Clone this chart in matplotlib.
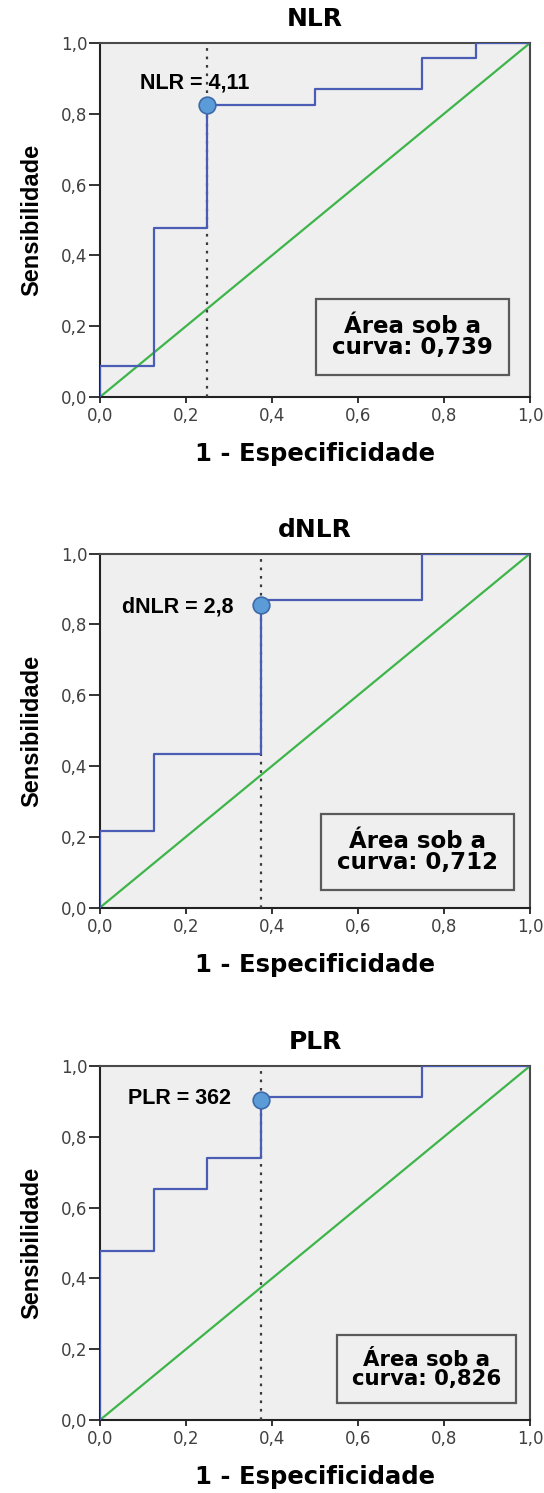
import matplotlib as mpl
import matplotlib.pyplot as plt
from matplotlib.ticker import FuncFormatter

mpl.use('Agg')
plt.rcParams['font.family'] = ['DejaVu Sans']

# ROC curve vertices (1 - especificidade, sensibilidade)
fpr_nlr = [0.0, 0.0, 0.125, 0.125, 0.25, 0.25, 0.5, 0.5, 0.75, 0.75, 0.875, 0.875, 1.0]
tpr_nlr = [0.0, 0.087, 0.087, 0.478, 0.478, 0.826, 0.826, 0.870, 0.870, 0.957, 0.957, 1.0, 1.0]

fpr_dnlr = [0.0, 0.0, 0.125, 0.125, 0.375, 0.375, 0.75, 0.75, 1.0]
tpr_dnlr = [0.0, 0.217, 0.217, 0.435, 0.435, 0.870, 0.870, 1.0, 1.0]

fpr_plr = [0.0, 0.0, 0.125, 0.125, 0.25, 0.25, 0.375, 0.375, 0.75, 0.75, 1.0]
tpr_plr = [0.0, 0.478, 0.478, 0.652, 0.652, 0.739, 0.739, 0.913, 0.913, 1.0, 1.0]

titles = ["NLR", "dNLR", "PLR"]
cut_x = [0.25, 0.375, 0.375]
cut_y = [0.826, 0.855, 0.905]
cut_labels = ["NLR = 4,11", "dNLR = 2,8", "PLR = 362"]
auc_labels = ["Área sob a\ncurva: 0,739", "Área sob a\ncurva: 0,712", "Área sob a\ncurva: 0,826"]

curves = [(fpr_nlr, tpr_nlr), (fpr_dnlr, tpr_dnlr), (fpr_plr, tpr_plr)]

# layout (figure fractions) and label placement per panel
bottoms = [0.7341, 0.3921, 0.0489]
ann_pos = [(0.22, 0.887, "center"), (0.31, 0.848, "right"), (0.305, 0.907, "right")]
box_pos = [(0.726, 0.169, 16.5), (0.738, 0.158, 16.5), (0.759, 0.143, 15.3)]

fig = plt.figure(figsize=(5.44, 14.93), dpi=100)
comma = FuncFormatter(lambda v, p: "{:.1f}".format(v).replace(".", ","))

for i in range(3):
    ax = fig.add_axes([0.1838, bottoms[i], 0.7904, 0.2371])
    ax.set_facecolor("#efefef")
    fpr, tpr = curves[i]
    ax.plot([0, 1], [0, 1], color="#3db54a", lw=1.6, zorder=2)
    ax.plot([cut_x[i], cut_x[i]], [0, 1], color="#3a3a3a", lw=1.6,
            linestyle=(0, (1.2, 2.6)), zorder=3)
    ax.plot(fpr, tpr, color="#4a5cb4", lw=1.6, zorder=4)
    ax.plot(cut_x[i], cut_y[i], "o", ms=12, mfc="#5b9bd8", mec="#3d6aa8",
            mew=1.2, zorder=5)
    ax.text(ann_pos[i][0], ann_pos[i][1], cut_labels[i], ha=ann_pos[i][2],
            va="center", fontsize=15.5, fontweight="bold",
            family=["Liberation Sans Narrow", "Liberation Sans"])
    ax.text(box_pos[i][0], box_pos[i][1], auc_labels[i], ha="center",
            va="center", fontsize=box_pos[i][2], fontweight="bold",
            linespacing=0.9,
            bbox=dict(boxstyle="square,pad=0.7", fc="#efefef", ec="#5a5a5a", lw=1.6))

    ax.set_xlim(0, 1)
    ax.set_ylim(0, 1)
    ax.set_xticks([0, 0.2, 0.4, 0.6, 0.8, 1.0])
    ax.set_yticks([0, 0.2, 0.4, 0.6, 0.8, 1.0])
    ax.xaxis.set_major_formatter(comma)
    ax.yaxis.set_major_formatter(comma)
    ax.tick_params(direction="out", width=1.4, labelsize=12,
                   labelcolor="#404040", color="#333333")
    ax.tick_params(axis="x", length=4.5, pad=3)
    ax.tick_params(axis="y", length=8, pad=1)
    for sp in ax.spines.values():
        sp.set_linewidth(1.5)
        sp.set_color("#4a4a4a")
    ax.spines["left"].set_color("#222222")
    ax.spines["bottom"].set_color("#222222")

    ax.set_title(titles[i], fontsize=18, fontweight="bold", pad=12)
    ax.set_xlabel("1 - Especificidade", fontsize=17.5, fontweight="bold", labelpad=12)
    ax.set_ylabel("Sensibilidade", fontsize=17, fontweight="bold", labelpad=13,
                  family="Liberation Sans")

fig.savefig("out.png", dpi=100)
